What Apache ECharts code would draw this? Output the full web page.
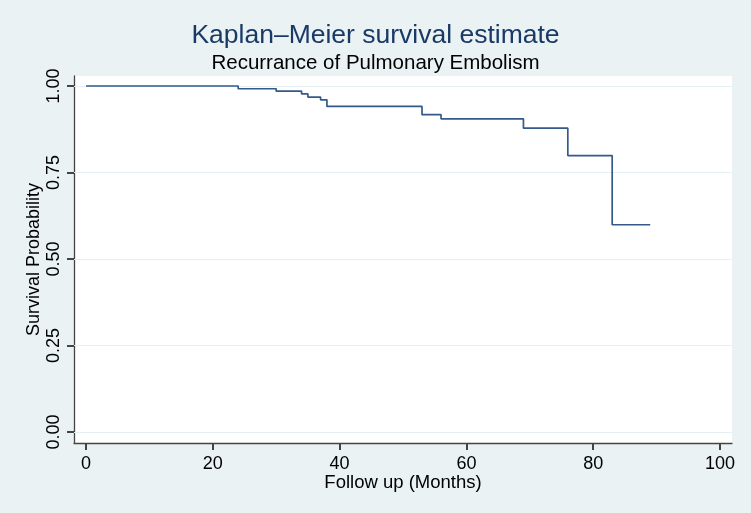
<!DOCTYPE html>
<html>
<head>
<meta charset="utf-8">
<script src="https://cdn.jsdelivr.net/npm/echarts@6/dist/echarts.min.js"></script>
<style>
html,body{margin:0;padding:0;background:#eaf2f3;}
#chart{width:751px;height:513px;}
</style>
</head>
<body>
<div id="chart"></div>
<script>
// Kaplan–Meier step data (time in months, survival probability)
const times = [0, 24, 30, 34, 35, 37, 38, 53, 56, 69, 76, 83, 89];
const survival = [1.000, 0.992, 0.985, 0.977, 0.968, 0.960, 0.941, 0.917, 0.905, 0.878, 0.799, 0.599, 0.599];
const xTicks = [0, 20, 40, 60, 80, 100];
const yTicks = [0, 0.25, 0.5, 0.75, 1];

const FONT = 'Liberation Sans';
const AX = '#444';
const chart = echarts.init(document.getElementById('chart'), null, {renderer: 'canvas'});
const data = times.map((t, i) => [t, survival[i]]);
const hidden = {show: false};

chart.setOption({
  backgroundColor: '#eaf2f3',
  animation: false,
  title: [
    {text: 'Kaplan–Meier survival estimate', left: 'center', top: 17,
     textStyle: {color: '#1a3a66', fontSize: 26.5, fontWeight: 'normal', fontFamily: FONT}},
    {text: 'Recurrance of Pulmonary Embolism', left: 'center', top: 48,
     textStyle: {color: '#000', fontSize: 20.5, fontWeight: 'normal', fontFamily: FONT}}
  ],
  grid: [
    // plot region (white background, axis lines)
    {left: 74, right: 19, top: 76, bottom: 70, show: true, backgroundColor: '#fff', borderWidth: 0},
    // data region (labels from 0..100, 0..1)
    {left: 86, right: 31, top: 86, bottom: 81, show: false}
  ],
  xAxis: [{
    gridIndex: 0, type: 'value', min: -1.9, max: 101.9,
    name: 'Follow up (Months)', nameLocation: 'middle', nameGap: 30,
    nameTextStyle: {color: '#000', fontSize: 18.5, fontFamily: FONT},
    axisLine: {show: true, onZero: false, lineStyle: {color: AX, width: 1.3}},
    axisTick: hidden, axisLabel: hidden, splitLine: hidden
  }, {
    gridIndex: 1, type: 'value', min: xTicks[0], max: xTicks[xTicks.length - 1], interval: 20,
    position: 'bottom', offset: 11,
    axisLine: {show: false, onZero: false},
    axisTick: {show: true, inside: false, length: 7, lineStyle: {color: AX, width: 2}},
    axisLabel: {show: true, color: '#000', fontSize: 18, fontFamily: FONT, margin: 12},
    splitLine: hidden
  }],
  yAxis: [{
    gridIndex: 0, type: 'value', min: -0.0318, max: 1.0289,
    name: 'Survival Probability', nameLocation: 'middle', nameGap: 31,
    nameTextStyle: {color: '#000', fontSize: 18, fontFamily: FONT},
    axisLine: {show: true, onZero: false, lineStyle: {color: AX, width: 1.3}},
    axisTick: hidden, axisLabel: hidden, splitLine: hidden
  }, {
    gridIndex: 1, type: 'value', min: yTicks[0], max: yTicks[yTicks.length - 1], interval: 0.25,
    position: 'left', offset: 12,
    axisLine: {show: false, onZero: false},
    axisTick: {show: true, inside: false, length: 7, lineStyle: {color: AX, width: 2}},
    axisLabel: {show: true, color: '#000', fontSize: 18, fontFamily: FONT, rotate: 90, margin: 11,
      formatter: v => v.toFixed(2)},
    splitLine: hidden
  }],
  series: [{
    type: 'line', step: 'end', data: data, symbol: 'none', z: 3,
    xAxisIndex: 0, yAxisIndex: 0,
    lineStyle: {color: '#34598a', width: 1.7},
    markLine: {
      silent: true, symbol: 'none', label: {show: false}, z: 1,
      lineStyle: {color: '#e6eff1', width: 1, type: 'solid'},
      data: yTicks.map(v => ({yAxis: v}))
    }
  }]
});
</script>
</body>
</html>
